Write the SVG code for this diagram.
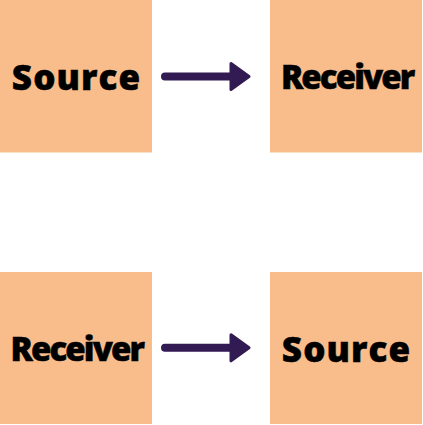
<svg xmlns="http://www.w3.org/2000/svg" width="423" height="425" viewBox="0 0 423 425">
<style>
.box{fill:#F9BD8C}
.lbl{font-family:"Open Sans","Liberation Sans",sans-serif;font-weight:800;fill:#000;text-anchor:middle;stroke:#000;stroke-width:0.5px}
.src{font-size:35px;letter-spacing:1.1px}
.rcv{font-size:33px;letter-spacing:-1.9px}
.conn{stroke:#311B52;stroke-width:8;stroke-linecap:round;fill:none}
</style>
<defs>
<marker id="ah" markerUnits="userSpaceOnUse" markerWidth="24" markerHeight="30" refX="2" refY="15" orient="auto">
<path d="M2,2 L20,15 L2,28 Z" fill="#311B52" stroke="#311B52" stroke-width="3" stroke-linejoin="round"/>
</marker>
</defs>
<g id="connectors">
<path class="conn" d="M165,76.5 L231,76.5" marker-end="url(#ah)"/>
<path class="conn" d="M165,347.8 L231,347.8" marker-end="url(#ah)"/>
</g>
<g id="source-top">
<rect class="box" x="0" y="0" width="152" height="152.5"/>
<text class="lbl src" x="76.6" y="90">Source</text>
</g>
<g id="receiver-top">
<rect class="box" x="270" y="0" width="152" height="152.5"/>
<text class="lbl rcv" x="347.2" y="89.3">Receiver</text>
</g>
<g id="receiver-bottom">
<rect class="box" x="0" y="272" width="152" height="152"/>
<text class="lbl rcv" x="76.8" y="361">Receiver</text>
</g>
<g id="source-bottom">
<rect class="box" x="270" y="272" width="152" height="152"/>
<text class="lbl src" x="346.6" y="361.5">Source</text>
</g>
</svg>
